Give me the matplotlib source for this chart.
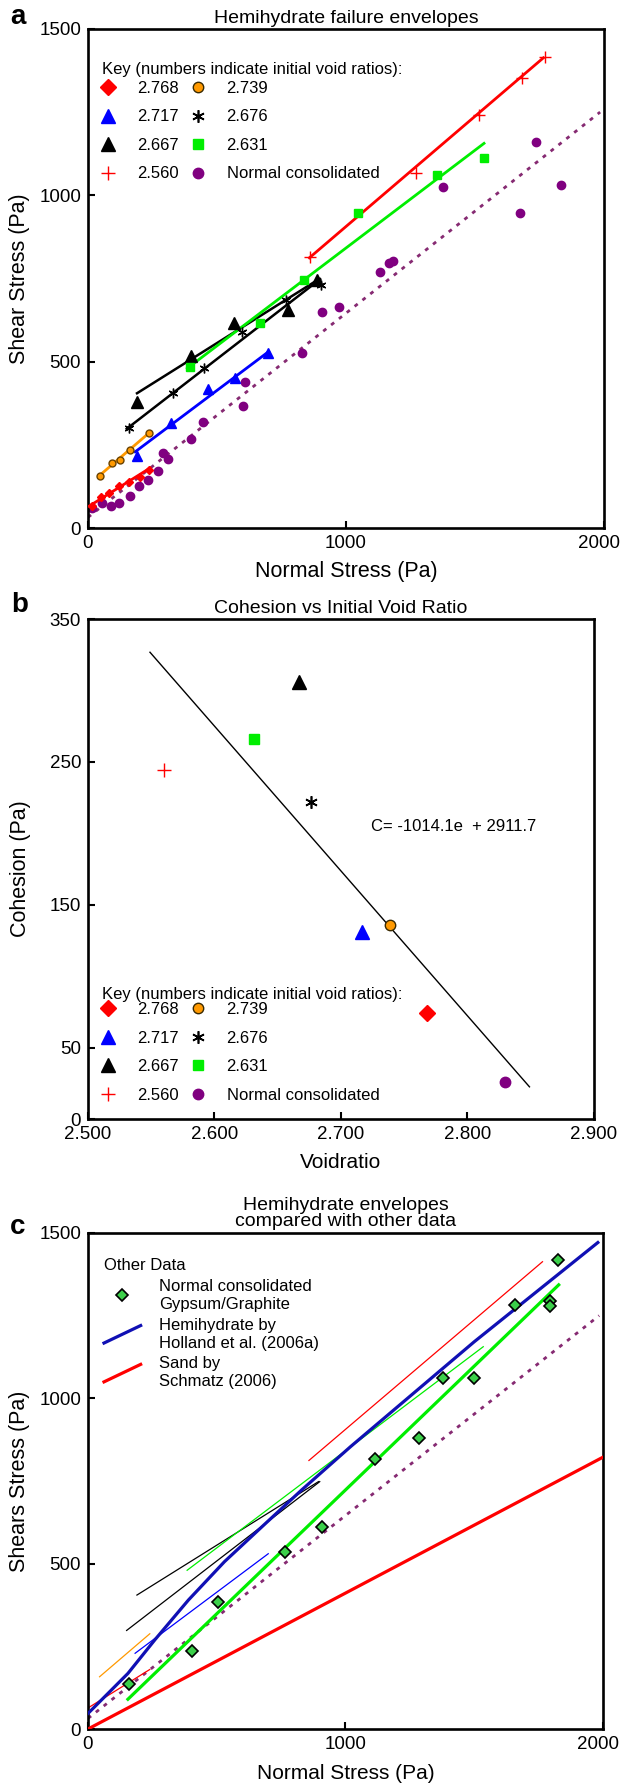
"""Hemihydrate failure envelopes, cohesion vs void ratio, comparison panel"""
import matplotlib
matplotlib.use('Agg')
import numpy as np
import matplotlib.pyplot as plt
from matplotlib.lines import Line2D
from matplotlib.legend_handler import HandlerLine2D
from matplotlib.transforms import ScaledTranslation

plt.rcParams['font.family'] = ['Liberation Sans', 'DejaVu Sans']

# ---- panel a data (normal stress, shear stress in Pa) ----
e2768_x = [15, 50, 80, 120, 160, 200, 235]
e2768_y = [67, 94, 106, 126, 139, 154, 174]
e2739_x = [48, 92, 125, 163, 236]
e2739_y = [156, 196, 204, 234, 285]
e2717_x = [190, 320, 466, 570, 698]
e2717_y = [216, 315, 417, 452, 525]
e2676_x = [159, 331, 448, 597, 767, 905]
e2676_y = [300, 405, 480, 590, 685, 730]
e2667_x = [190, 400, 567, 777, 887]
e2667_y = [380, 517, 617, 655, 745]
e2631_x = [397, 667, 838, 1048, 1351, 1533]
e2631_y = [485, 615, 745, 946, 1061, 1111]
e2560_x = [860, 1271, 1515, 1682, 1770]
e2560_y = [815, 1068, 1242, 1352, 1416]
nc_x = [16, 56, 89, 121, 162, 196, 233, 271, 290, 310, 400, 445, 600, 610,
        828, 906, 974, 1133, 1166, 1182, 1375, 1674, 1736, 1833]
nc_y = [60, 74, 67, 74, 96, 126, 144, 171, 226, 208, 267, 320, 367, 439,
        525, 648, 663, 770, 795, 802, 1026, 946, 1161, 1031]

# fitted envelopes (end points)
fit_2768 = ([5, 240], [66, 180])
fit_2739 = ([45, 240], [158, 288])
fit_2717 = ([183, 700], [229, 530])
fit_2676 = ([150, 900], [298, 748])
fit_2667 = ([190, 895], [405, 748])
fit_2631 = ([385, 1535], [480, 1156])
fit_2560 = ([858, 1765], [812, 1413])
fit_nc = ([0, 1985], [32, 1250])

# ---- panel b data ----
void_ratio = [2.768, 2.739, 2.717, 2.676, 2.667, 2.631, 2.560, 2.830]
cohesion = [74, 136, 131, 222, 306, 266, 244, 26]
coh_slope = -1014.1
coh_icpt = 2911.7
coh_range = [2.549, 2.849]

# ---- panel c data ----
gyp_x = [158, 405, 505, 764, 910, 1113, 1287, 1380, 1500, 1657, 1796, 1796, 1827]
gyp_y = [136, 237, 385, 536, 612, 815, 880, 1062, 1061, 1282, 1294, 1279, 1417]
fit_gyp = ([155, 1828], [90, 1343])
holland_x = [0, 155, 260, 390, 530, 690, 830, 1020, 1500, 1980]
holland_y = [47, 168, 270, 390, 506, 622, 723, 854, 1171, 1471]
schmatz_x = [0, 2000]
schmatz_y = [0, 822]

RED = '#ff0000'
ORANGE = '#ff9900'
BLUE = '#0000ff'
GREEN = '#00ee00'
PURPLE = '#800080'
DOT = '#862a72'

labels = ['2.768', '2.739', '2.717', '2.676', '2.667', '2.631', '2.560',
          'Normal consolidated']
mstyle = [
    dict(marker='D', mfc=RED, mec=RED, ms=8),
    dict(marker='o', mfc=ORANGE, mec='#3a2a00', ms=7.5, mew=1),
    dict(marker='^', mfc=BLUE, mec=BLUE, ms=9.5),
    dict(marker=(6, 2, 0), mfc='k', mec='k', ms=9, mew=1.2),
    dict(marker='^', mfc='k', mec='k', ms=9.5),
    dict(marker='s', mfc=GREEN, mec=GREEN, ms=7),
    dict(marker='+', mfc=RED, mec=RED, ms=10, mew=1),
    dict(marker='o', mfc=PURPLE, mec=PURPLE, ms=7.5),
]


def style_axes(ax):
    for sp in ax.spines.values():
        sp.set_linewidth(1.9)
    ax.tick_params(direction='in', length=5, width=1.5, labelsize=13.5, pad=5)


def nudge_last_xlabel(ax, dx_px):
    lab = ax.get_xticklabels()[-1]
    lab.set_transform(lab.get_transform() + ScaledTranslation(dx_px / 100, 0, fig.dpi_scale_trans))


def key_legend(ax, title_xy, anchor):
    ax.text(title_xy[0], title_xy[1], 'Key (numbers indicate initial void ratios):',
            transform=ax.transAxes, fontsize=12, ha='left', va='center')
    # column-major order for ncol=2
    order = [0, 2, 4, 6, 1, 3, 5, 7]
    handles = [Line2D([], [], ls='none', **mstyle[i]) for i in order]
    leg = ax.legend(handles, [labels[i] for i in order], ncol=2, loc='upper left',
                    bbox_to_anchor=anchor, frameon=False, fontsize=12,
                    borderpad=0, borderaxespad=0, handlelength=1.0, handletextpad=1.2,
                    columnspacing=0.7, labelspacing=0.81, numpoints=1)
    return leg


class SlantHandler(HandlerLine2D):
    def create_artists(self, legend, orig_handle, xdescent, ydescent,
                       width, height, fontsize, trans):
        x0 = -xdescent
        line = Line2D([x0, x0 + width], [-ydescent - 0.25 * height, -ydescent + 1.25 * height])
        self.update_prop(line, orig_handle, legend)
        line.set_transform(trans)
        return [line]


fig = plt.figure(figsize=(6.21, 17.85), dpi=100)
ax_a = fig.add_axes([0.1417, 0.7042, 0.8309, 0.2796])
ax_b = fig.add_axes([0.1417, 0.3731, 0.8148, 0.2801])
ax_c = fig.add_axes([0.1417, 0.03137, 0.8293, 0.2779])

# ---------------- panel a ----------------
ax = ax_a
ax.plot(*fit_nc, ls=(0, (1.4, 2.2)), color=DOT, lw=2.0, zorder=1)
ax.plot(nc_x, nc_y, 'o', color=PURPLE, ms=6, zorder=2)
fits = [fit_2768, fit_2739, fit_2717, fit_2676, fit_2667, fit_2631, fit_2560]
cols = [RED, ORANGE, BLUE, 'k', 'k', GREEN, RED]
lws = [2.0, 2.0, 2.0, 1.8, 1.8, 2.0, 2.0]
for f, c, w in zip(fits, cols, lws):
    ax.plot(*f, color=c, lw=w, zorder=3)
ax.plot(e2768_x, e2768_y, 'D', color=RED, ms=4, zorder=4)
ax.plot(e2739_x, e2739_y, 'o', mfc=ORANGE, mec='#6a4200', ms=5, mew=1, zorder=4)
ax.plot(e2717_x, e2717_y, '^', color=BLUE, ms=6.5, zorder=4)
ax.plot(e2676_x, e2676_y, ls='none', marker=(6, 2, 0), color='k', ms=7, mew=1, zorder=4)
ax.plot(e2667_x, e2667_y, '^', color='k', ms=8, zorder=4)
ax.plot(e2631_x, e2631_y, 's', color=GREEN, ms=5.5, zorder=4)
ax.plot(e2560_x, e2560_y, '+', color=RED, ms=8, mew=1, zorder=4)
ax.set_xlim(0, 2000)
ax.set_ylim(0, 1500)
ax.set_xticks([0, 1000, 2000])
ax.set_yticks([0, 500, 1000, 1500])
style_axes(ax)
nudge_last_xlabel(ax, -5)
ax.set_title('Hemihydrate failure envelopes', fontsize=14, pad=4)
ax.set_xlabel('Normal Stress (Pa)', fontsize=15.5)
ax.set_ylabel('Shear Stress (Pa)', fontsize=15.5)
ax.xaxis.set_label_coords(0.5, -0.066)
ax.yaxis.set_label_coords(-0.112, 0.5)
key_legend(ax, (14 / 516, 1 - 41 / 499), (12 / 516, 1 - 52 / 499))

# ---------------- panel b ----------------
ax = ax_b
e_line = np.array(coh_range)
ax.plot(e_line, coh_slope * e_line + coh_icpt, color='k', lw=1.0, zorder=1)
for v, c, st in zip(void_ratio, cohesion, mstyle):
    ax.plot([v], [c], ls='none', zorder=3, **st)
ax.text(2.724, 205, 'C= -1014.1e  + 2911.7', fontsize=12, va='center', ha='left')
ax.set_xlim(2.5, 2.9)
ax.set_ylim(0, 350)
ax.set_xticks([2.5, 2.6, 2.7, 2.8, 2.9])
ax.set_xticklabels(['%.3f' % t for t in [2.5, 2.6, 2.7, 2.8, 2.9]])
ax.set_yticks([0, 50, 150, 250, 350])
style_axes(ax)
ax.set_title('Cohesion vs Initial Void Ratio', fontsize=14, pad=4)
ax.set_xlabel('Voidratio', fontsize=15)
ax.set_ylabel('Cohesion (Pa)', fontsize=15.5)
ax.xaxis.set_label_coords(0.5, -0.068)
ax.yaxis.set_label_coords(-0.112, 0.5)
key_legend(ax, (14 / 506, 1 - (994 - 619) / 500), (12 / 506, 1 - (1002 - 619) / 500))

# ---------------- panel c ----------------
ax = ax_c
ax.plot(*fit_nc, ls=(0, (1.4, 2.2)), color=DOT, lw=2.0, zorder=1)
for f, c in zip(fits, cols):
    ax.plot(*f, color=c, lw=0.9, zorder=2)
ax.plot(schmatz_x, schmatz_y, color=RED, lw=2.3, zorder=3)
ax.plot(*fit_gyp, color=GREEN, lw=2.3, zorder=3)
h_hol, = ax.plot(holland_x, holland_y, color='#1010b4', lw=2.3, zorder=3)
h_gyp, = ax.plot(gyp_x, gyp_y, 'D', mfc='#3cd04a', mec='k', ms=6, mew=1.2, zorder=4)
h_sch = Line2D([], [], color=RED, lw=2.3)
ax.set_xlim(0, 2000)
ax.set_ylim(0, 1500)
ax.set_xticks([0, 1000, 2000])
ax.set_yticks([0, 500, 1000, 1500])
style_axes(ax)
nudge_last_xlabel(ax, -5)
ax.set_title('Hemihydrate envelopes\ncompared with other data', fontsize=14,
             pad=5, linespacing=0.9)
ax.set_xlabel('Normal Stress (Pa)', fontsize=15)
ax.set_ylabel('Shears Stress (Pa)', fontsize=15.5)
ax.xaxis.set_label_coords(0.5, -0.07)
ax.yaxis.set_label_coords(-0.112, 0.5)
leg = ax.legend([h_gyp, h_hol, h_sch],
                ['Normal consolidated\nGypsum/Graphite', 'Hemihydrate by\nHolland et al. (2006a)',
                 'Sand by\nSchmatz (2006)'],
                handler_map={h_hol: SlantHandler(), h_sch: SlantHandler()},
                loc='upper left', bbox_to_anchor=(16 / 515, 1 - 25 / 496),
                frameon=False, fontsize=12, title='Other Data', title_fontsize=12,
                alignment='left', borderpad=0, borderaxespad=0, handlelength=2.2,
                handletextpad=1.1, labelspacing=0.35, numpoints=1)
for t in leg.get_texts():
    t.set_linespacing(1.25)

fig.text(18 / 621, 1 - 17 / 1785, 'a', fontsize=20, fontweight='bold', ha='center', va='center')
fig.text(20 / 621, 1 - 605 / 1785, 'b', fontsize=20, fontweight='bold', ha='center', va='center')
fig.text(18 / 621, 1 - 1227 / 1785, 'c', fontsize=20, fontweight='bold', ha='center', va='center')

fig.savefig('out.png', dpi=100)
